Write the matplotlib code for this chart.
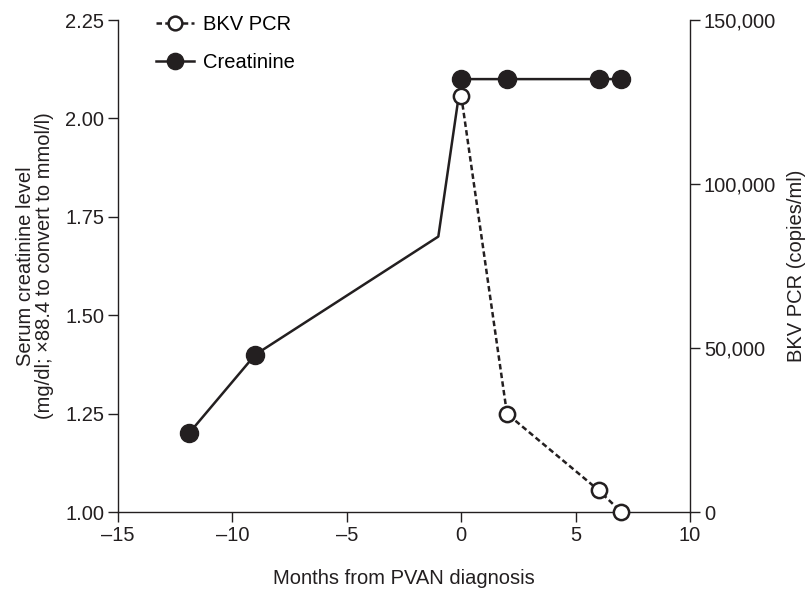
import matplotlib
matplotlib.use("Agg")
import matplotlib.pyplot as plt
from matplotlib.ticker import FuncFormatter

plt.rcParams['font.family'] = ['Liberation Sans', 'DejaVu Sans']

months_cr = [-11.9, -9, -1, 0, 2, 6, 7]
creatinine = [1.2, 1.4, 1.7, 2.1, 2.1, 2.1, 2.1]
cr_marker_shown = [True, True, False, True, True, True, True]

months_bkv = [0, 2, 6, 7]
bkv = [127000, 30000, 6700, 0]

x_ticks = [-15, -10, -5, 0, 5, 10]
left_ticks = [1.00, 1.25, 1.50, 1.75, 2.00, 2.25]
right_ticks = [0, 50000, 100000, 150000]

col = '#231f20'
fs = 14.5
fig = plt.figure(figsize=(8.08, 5.9), dpi=100)
ax = fig.add_axes([0.146, 0.132, 0.708, 0.834])
ax2 = ax.twinx()

markevery = [i for i, s in enumerate(cr_marker_shown) if s]
l1, = ax.plot(months_cr, creatinine, '-', color=col, lw=1.8, marker='o', ms=13,
              markevery=markevery, mfc=col, mec=col, zorder=3, clip_on=False)
l2, = ax2.plot(months_bkv, bkv, color=col, lw=1.8, ls=(0, (2.2, 1.3)), marker='o', ms=11,
               mfc='white', mec=col, mew=1.8, zorder=4, clip_on=False)

ax.set_xlim(-15, 10)
ax.set_ylim(1.0, 2.25)
ax2.set_ylim(0, 150000)
ax.set_xticks(x_ticks)
ax.set_xticklabels([str(t).replace('-', '\u2013') for t in x_ticks])
ax.set_yticks(left_ticks)
ax.set_yticklabels([f'{t:.2f}' for t in left_ticks])
ax2.set_yticks(right_ticks)
ax2.yaxis.set_major_formatter(FuncFormatter(lambda v, p: f'{int(v):,}'))

for a in (ax, ax2):
    a.spines['top'].set_visible(False)
    for s in a.spines.values():
        s.set_color(col)
        s.set_linewidth(1.0)
    a.tick_params(colors=col, labelcolor=col, labelsize=fs, length=7, width=1.0, direction='out', pad=3)
ax2.spines['left'].set_visible(False)
ax2.spines['bottom'].set_visible(False)
ax.spines['right'].set_visible(False)
ax2.set_zorder(ax.get_zorder() + 1)
ax2.patch.set_visible(False)

ax.set_xlabel('Months from PVAN diagnosis', fontsize=fs, color=col, labelpad=17)
ax.set_ylabel('Serum creatinine level\n(mg/dl; \u00d788.4 to convert to mmol/l)', fontsize=fs,
              color=col, labelpad=8, linespacing=1.0)
ax2.set_ylabel('BKV PCR (copies/ml)', fontsize=fs, color=col, labelpad=8)

ax.legend([l2, l1], ['BKV PCR', 'Creatinine'], loc='upper left', bbox_to_anchor=(0.035, 1.047),
          frameon=False, fontsize=fs, handlelength=1.9, handletextpad=0.45, labelspacing=0.95,
          markerscale=0.9)

fig.savefig('out.png', dpi=100)
